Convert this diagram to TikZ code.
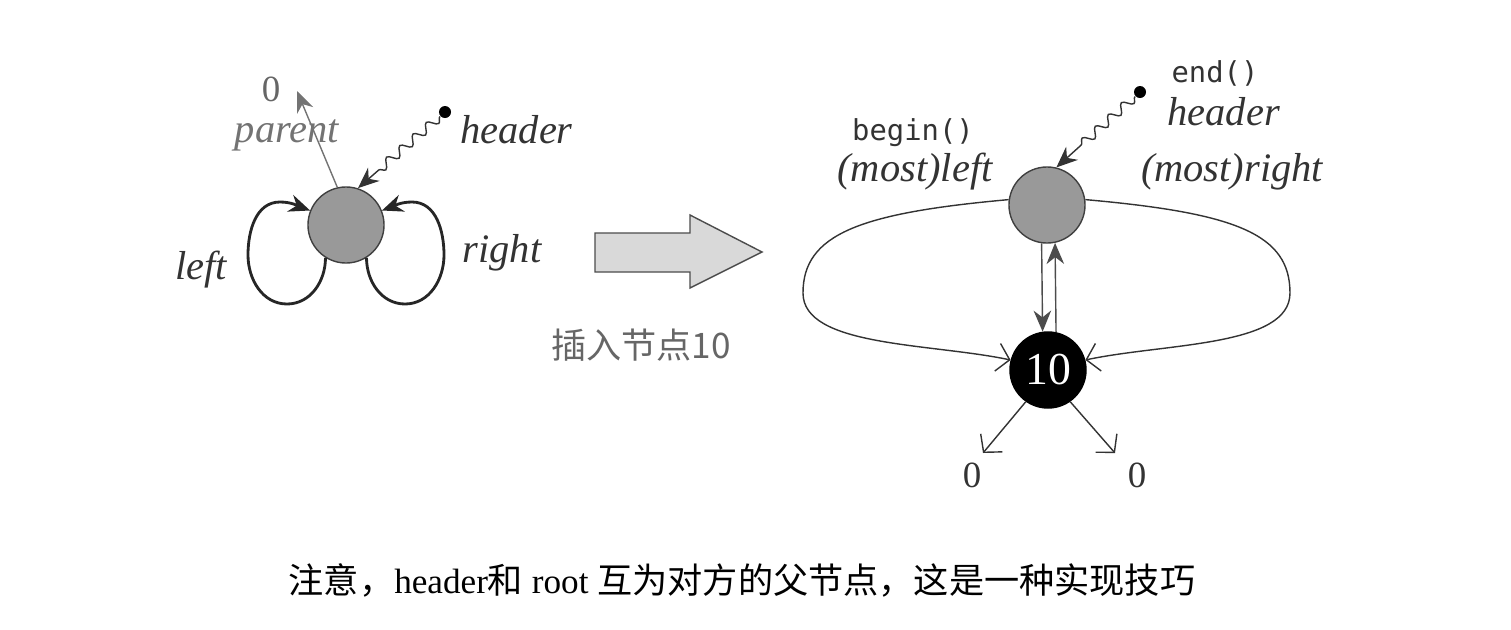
\documentclass[tikz,border=0pt]{standalone}
\usepackage{fontspec}
\setmainfont{Liberation Serif}
\setmonofont{DejaVu Sans Mono}
\newfontfamily\cjk{Noto Sans CJK SC}
\usetikzlibrary{arrows.meta,decorations.pathmorphing}

\tikzset{
  hdr/.style={circle,draw=black!75,fill=black!40,minimum size=0.76cm,inner sep=0pt},
  keynode/.style={circle,draw=black,fill=black,text=white,minimum size=0.76cm,inner sep=0pt,
    font=\fontsize{13}{14}\selectfont},
  dotnode/.style={circle,fill=black,minimum size=0.12cm,inner sep=0pt},
  lbl/.style={font=\fontsize{11.5}{13}\selectfont\itshape,text=black!80},
  code/.style={font=\fontsize{8.2}{10}\ttfamily,text=black!80},
  wavy/.style={black!80,-{Stealth[length=6pt,width=5pt]},
    decorate,decoration={snake,segment length=5pt,amplitude=1.3pt,post length=7pt}},
  solid tip/.style={-{Stealth[length=6pt,width=5pt]}},
  open tip/.style={-{Straight Barb[length=3.5pt,width=8pt]}}
}

\begin{document}
\begin{tikzpicture}[x=0.01cm,y=0.01cm]
\useasboundingbox (0,0) rectangle (1511,629);
% left: empty tree, header only
\node[hdr] (h1) at (346,404) {};
\node[dotnode] (dot1) at (445,517) {};
\node[lbl,anchor=west] (hd1) at (448,499) {header};
\draw[wavy] (dot1) -- (h1.72);
\node[font=\fontsize{10.5}{12}\selectfont,text=black!60,inner sep=0pt] (p0) at (271,540) {0};
\coordinate (ptip) at (297,538);
\draw[black!55,thin,solid tip] (h1.103) -- (ptip);
\node[lbl,text=black!55,inner sep=0pt] (par) at (287,494) {parent};
% left and right point back to header
\draw[thick,black!85,solid tip] (h1.238) to[out=270,in=0] (287,325) to[out=180,in=270] (248,374)
  to[out=90,in=180] (280,427) to[out=0,in=160] (h1.158);
\draw[thick,black!85,solid tip] (h1.302) to[out=270,in=180] (405,325) to[out=0,in=270] (444,374)
  to[out=90,in=0] (412,427) to[out=180,in=20] (h1.22);
\node[lbl] (lft) at (201,359) {left};
\node[lbl] (rgt) at (502,376) {right};
% big arrow
\draw[black!70,fill=black!15] (595,396) -- (690,396) -- (690,414) -- (762,377)
  -- (690,341) -- (690,357) -- (595,357) -- cycle;
\node[font=\fontsize{10}{12}\cjk,text=black!60] (ins) at (641,284) {插入节点10};
% right: after inserting 10
\node[hdr] (h2) at (1047,424) {};
\node[keynode] (n10) at (1048,259) {10};
\node[dotnode] (dot2) at (1140,537) {};
\node[code] (endf) at (1215,556) {end()};
\node[lbl,anchor=west] (hd2) at (1155,517) {header};
\draw[wavy] (dot2) -- (h2.76);
\node[code] (begf) at (913,496) {begin()};
\node[lbl] (mleft) at (915,457) {(most)left};
\node[lbl] (mright) at (1232,457) {(most)right};
% parent links
\draw[black!70,solid tip] (h2.262) -- (n10.98);
\draw[black!70,solid tip] (n10.78) -- (h2.282);
% leftmost / rightmost
\draw[black!80,open tip] (h2.172) .. controls (860,416) and (803,395) .. (803,336)
  .. controls (803,282) and (930,286) .. (n10.165);
\draw[black!80,open tip] (h2.8) .. controls (1236,416) and (1290,395) .. (1290,336)
  .. controls (1290,282) and (1165,286) .. (n10.15);
% children
\coordinate (c1) at (983,176);
\coordinate (c2) at (1115,176);
\draw[black!80,open tip] (n10.235) -- (c1);
\draw[black!80,open tip] (n10.305) -- (c2);
\node[font=\fontsize{10.5}{12}\selectfont,text=black!80] (z1) at (972,154) {0};
\node[font=\fontsize{10.5}{12}\selectfont,text=black!80] (z2) at (1137,154) {0};
% caption
\node[font=\fontsize{10}{12}\selectfont] (cap) at (742,49)
  {{\cjk 注意，}header{\cjk 和} root {\cjk 互为对方的父节点，这是一种实现技巧}};
\end{tikzpicture}
\end{document}
